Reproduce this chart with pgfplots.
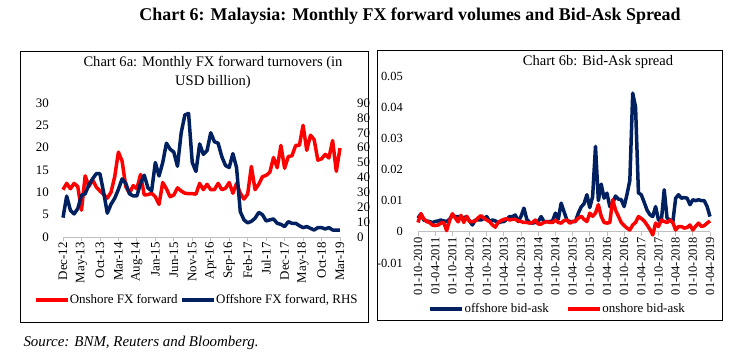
\documentclass[border=0pt]{standalone}
\usepackage{fontspec}
\setmainfont{Liberation Serif}
\usepackage{pgfplots}
\usepackage{pgfplotstable}
\pgfplotsset{compat=1.18}
\definecolor{navy}{RGB}{0,32,96}
\definecolor{axgray}{RGB}{191,191,191}

\pgfplotstableread{
i on off
0 10.6 13
1 12.0 27.5
2 10.8 18
3 12.0 15.5
4 11.3 19
5 6.0 28
6 13.7 29
7 11.3 35
8 12.8 39
9 11.2 42.5
10 10.3 42.5
11 9.5 30
12 8.7 16
13 10.0 22
14 13.5 26
15 19.0 32
16 17.0 39
17 11.3 36
18 9.8 29
19 11.5 27.6
20 10.8 27.6
21 14.0 36
22 9.4 41.5
23 9.5 33
24 9.8 31
25 9.0 50
26 7.3 41
27 12.2 50
28 10.8 63
29 9.0 59
30 9.4 57
31 11.0 47.5
32 10.3 70
33 9.8 82
34 9.7 83
35 9.7 50
36 9.6 44
37 12.0 62.5
38 10.6 55.5
39 11.8 58
40 10.6 70
41 10.6 64
42 12.0 63
43 10.6 54
44 10.9 48
45 12.2 46.7
46 9.8 56
47 12.0 46.5
48 9.8 17
49 8.5 11.5
50 9.6 9.5
51 15.8 10.5
52 10.6 12.6
53 11.8 16.5
54 13.5 15
55 13.8 10.8
56 14.5 11.5
57 17.8 12.1
58 15.5 9.2
59 20.5 8.5
60 15.4 7
61 18.0 10.3
62 18.2 9.2
63 20.5 9.2
64 20.5 7.6
65 25.0 6.3
66 19.4 7
67 22.8 5.8
68 21.8 4.7
69 17.2 6.3
70 17.5 6.3
71 18.5 5.4
72 17.7 6.3
73 21.6 4.7
74 14.7 4.7
75 19.9 4.7
}\tblA

\pgfplotstableread{
j off on
0 0.0044 0.0030
1 0.0058 0.0058
2 0.0038 0.0042
3 0.0035 0.0033
4 0.0033 0.0030
5 0.0030 0.0022
6 0.0033 0.0020
7 0.0035 0.0022
8 0.0038 0.0028
9 0.0035 0.0030
10 0.0033 0.0004
11 0.0040 0.0035
12 0.0054 0.0058
13 0.0048 0.0045
14 0.0049 0.0032
15 0.0047 0.0053
16 0.0045 0.0030
17 0.0049 0.0050
18 0.0035 0.0033
19 0.0022 0.0033
20 0.0038 0.0035
21 0.0038 0.0045
22 0.0038 0.0052
23 0.0043 0.0044
24 0.0049 0.0038
25 0.0033 0.0033
26 0.0038 0.0022
27 0.0035 0.0015
28 0.0030 0.0030
29 0.0032 0.0036
30 0.0033 0.0040
31 0.0040 0.0042
32 0.0049 0.0038
33 0.0049 0.0040
34 0.0054 0.0040
35 0.0033 0.0035
36 0.0050 0.0033
37 0.0076 0.0030
38 0.0040 0.0030
39 0.0030 0.0028
40 0.0028 0.0030
41 0.0030 0.0038
42 0.0033 0.0025
43 0.0049 0.0025
44 0.0033 0.0030
45 0.0033 0.0033
46 0.0033 0.0030
47 0.0035 0.0030
48 0.0060 0.0038
49 0.0040 0.0030
50 0.0092 0.0028
51 0.0065 0.0036
52 0.0038 0.0038
53 0.0033 0.0028
54 0.0033 0.0033
55 0.0033 0.0035
56 0.0060 0.0044
57 0.0080 0.0050
58 0.0090 0.0040
59 0.0119 0.0033
60 0.0078 0.0060
61 0.0113 0.0050
62 0.0274 0.0060
63 0.0100 0.0087
64 0.0153 0.0050
65 0.0108 0.0030
66 0.0124 0.0028
67 0.0081 0.0030
68 0.0092 0.0103
69 0.0115 0.0070
70 0.0105 0.0050
71 0.0103 0.0030
72 0.0081 0.0020
73 0.0120 0.0012
74 0.0165 0.0006
75 0.0445 0.0022
76 0.0400 0.0030
77 0.0125 0.0049
78 0.0119 0.0043
79 0.0095 0.0035
80 0.0070 0.0022
81 0.0055 0.0008
82 0.0049 -0.0010
83 0.0081 0.0028
84 0.0038 0.0017
85 0.0035 0.0038
86 0.0135 0.0033
87 0.0044 0.0030
88 0.0038 0.0038
89 0.0030 0.0030
90 0.0108 0.0006
91 0.0119 0.0017
92 0.0108 0.0017
93 0.0110 0.0012
94 0.0108 0.0014
95 0.0087 0.0022
96 0.0103 0.0006
97 0.0100 0.0018
98 0.0103 0.0028
99 0.0100 0.0017
100 0.0100 0.0020
101 0.0081 0.0028
102 0.0049 0.0035
}\tblB

\pgfplotsset{
  mybase/.style={
    scale only axis, clip=false, anchor=south west,
    /pgf/number format/assume math mode=true,
    scaled y ticks=false, scaled x ticks=false,
    hide obscured x ticks=false, hide obscured y ticks=false,
    tick align=outside, major tick length=4bp,
    ytick style={draw=none},
    xtick style={axgray, line width=0.8bp},
    y axis line style={draw=none},
    x axis line style={axgray, line width=0.8bp, -},
    legend image code/.code={\draw[#1] (0bp,0bp) -- (32bp,0bp);},
  },
  ser/.style={line width=3.5bp, line join=round, mark=none},
}

\begin{document}
\begin{tikzpicture}
\useasboundingbox (0bp,0bp) rectangle (748bp,355bp);
\draw[line width=0.8bp] (20bp,33bp) rectangle (368bp,304bp);
\draw[line width=0.8bp] (377bp,35bp) rectangle (722bp,305bp);
\node[font=\bfseries\fontsize{18}{20}\selectfont] at (410bp,339bp) {Chart 6: Malaysia: Monthly FX forward volumes and Bid-Ask Spread};
\node[align=center, font=\fontsize{14.6}{19}\selectfont] at (213bp,282.5bp) {Chart 6a: Monthly FX forward turnovers (in\\USD billion)};
\node[font=\fontsize{14.6}{16}\selectfont] at (598bp,293bp) {Chart 6b: Bid-Ask spread};
\node[anchor=west, font=\itshape\fontsize{15}{17}\selectfont] at (20bp,12bp) {Source: BNM, Reuters and Bloomberg.};

% Left chart, primary axis
\begin{axis}[mybase, at={(63bp,118bp)}, width=277bp, height=134bp,
  xmin=0, xmax=75, ymin=0, ymax=30,
  axis x line*=bottom, axis y line*=left,
  xtick={0,5,...,75},
  xticklabels={Dec-12,May-13,Oct-13,Mar-14,Aug-14,Jan-15,Jun-15,Nov-15,Apr-16,Sep-16,Feb-17,Jul-17,Dec-17,May-18,Oct-18,Mar-19},
  x tick label style={rotate=90, anchor=east, inner sep=1bp, font=\fontsize{13}{13}\selectfont},
  ytick={0,5,...,30},
  y tick label style={anchor=east, inner sep=0pt, xshift=-10bp, font=\fontsize{13}{13}\selectfont},
]
\addplot[ser, red] table[x=i, y=on] {\tblA};
\end{axis}

% Left chart, secondary axis
\begin{axis}[mybase, at={(63bp,118bp)}, width=277bp, height=134bp,
  xmin=0, xmax=75, ymin=0, ymax=90,
  axis x line=none, axis y line*=right,
  ytick={0,10,...,90},
  y tick label style={anchor=west, inner sep=0pt, xshift=13bp, font=\fontsize{13}{13}\selectfont},
  legend style={at={(0.480,-0.470)}, anchor=center, draw=none, fill=none,
    font=\fontsize{13}{13}\selectfont, legend columns=2, inner sep=0pt,
    nodes={inner sep=0.5bp},
    /tikz/every even column/.append style={column sep=2bp}},
]
\addlegendimage{ser, red}
\addlegendentry{Onshore FX forward}
\addplot[ser, navy] table[x=i, y=off] {\tblA};
\addlegendentry{Offshore FX forward, RHS}
\end{axis}

% Right chart
\begin{axis}[mybase, at={(418bp,92bp)}, width=292bp, height=187bp,
  xmin=0, xmax=102, ymin=-0.01, ymax=0.05,
  axis x line*=middle, axis y line*=left,
  xtick={0,6,...,102},
  xticklabels={01-10-2010,01-04-2011,01-10-2011,01-04-2012,01-10-2012,01-04-2013,01-10-2013,01-04-2014,01-10-2014,01-04-2015,01-10-2015,01-04-2016,01-10-2016,01-04-2017,01-10-2017,01-04-2018,01-10-2018,01-04-2019},
  x tick label style={rotate=90, anchor=east, inner sep=1bp, font=\fontsize{12.5}{12.5}\selectfont},
  ytick={-0.01,0,0.01,0.02,0.03,0.04,0.05},
  yticklabels={-0.01,0,0.01,0.02,0.03,0.04,0.05},
  y tick label style={anchor=east, inner sep=0pt, xshift=-11bp, font=\fontsize{12.5}{12.5}\selectfont},
  legend style={at={(0.476,-0.246)}, anchor=center, draw=none, fill=none,
    font=\fontsize{13}{13}\selectfont, legend columns=2, inner sep=0pt,
    nodes={inner sep=0.5bp},
    /tikz/every even column/.append style={column sep=17bp}},
]
\addplot[ser, navy] table[x=j, y=off] {\tblB};
\addlegendentry{offshore bid-ask}
\addplot[ser, red] table[x=j, y=on] {\tblB};
\addlegendentry{onshore bid-ask}
\end{axis}
\end{tikzpicture}
\end{document}
